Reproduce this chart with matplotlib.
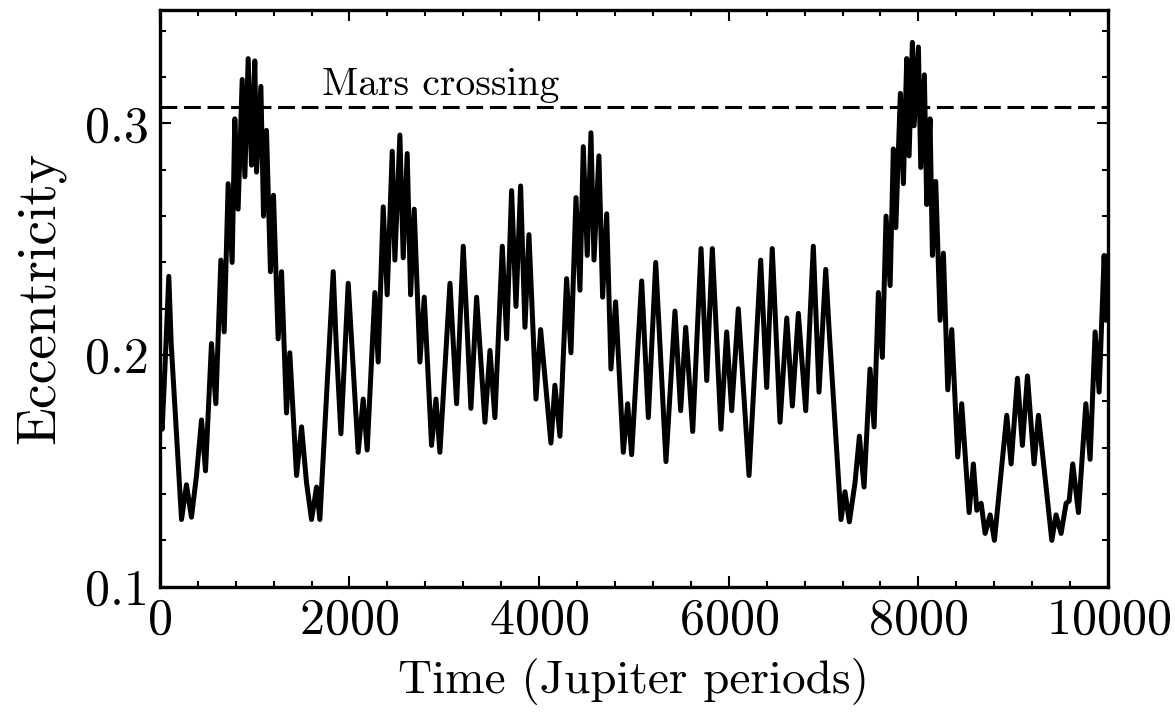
import numpy as np
import matplotlib
matplotlib.use('Agg')
import matplotlib.pyplot as plt
from matplotlib.ticker import MultipleLocator

plt.rcParams['font.family'] = 'serif'
plt.rcParams['font.serif'] = ['cmr10', 'DejaVu Serif']
plt.rcParams['mathtext.fontset'] = 'cm'
plt.rcParams['axes.formatter.use_mathtext'] = True
plt.rcParams['axes.unicode_minus'] = False

# time in Jupiter periods (turning points of the curve)
time = [0, 25, 60, 95, 120, 229, 281, 334, 387, 440, 482, 545, 591, 644, 679,
        721, 763, 791, 826, 869, 897, 932, 967, 1002, 1020, 1066, 1094, 1125,
        1167, 1199, 1248, 1284, 1336, 1371, 1442, 1495, 1547, 1600, 1653, 1688,
        1829, 1860, 1910, 1987, 2092, 2145, 2187, 2268, 2303, 2356, 2398, 2451,
        2479, 2532, 2567, 2609, 2645, 2683, 2743, 2789, 2866, 2912, 2954, 3060,
        3130, 3200, 3281, 3341, 3429, 3482, 3534, 3612, 3658, 3710, 3756, 3805,
        3851, 3893, 3967, 4016, 4125, 4167, 4220, 4290, 4336, 4389, 4431, 4466,
        4508, 4547, 4579, 4631, 4670, 4713, 4758, 4807, 4888, 4934, 4976, 5082,
        5152, 5230, 5338, 5433, 5493, 5546, 5620, 5708, 5768, 5827, 5918, 5978,
        6031, 6101, 6214, 6337, 6400, 6459, 6541, 6612, 6671, 6734, 6812, 6892,
        6952, 7023, 7060, 7184, 7226, 7272, 7332, 7378, 7427, 7490, 7533, 7578,
        7620, 7659, 7702, 7736, 7762, 7810, 7842, 7877, 7902, 7937, 7955, 8000,
        8025, 8063, 8088, 8123, 8148, 8183, 8229, 8264, 8310, 8352, 8415, 8457,
        8535, 8580, 8616, 8662, 8704, 8757, 8802, 8932, 8978, 9045, 9097, 9150,
        9220, 9266, 9407, 9452, 9505, 9558, 9590, 9628, 9688, 9766, 9811, 9864,
        9906, 9959, 9980, 10000]

ecc = [0.175, 0.168, 0.200, 0.234, 0.205, 0.129, 0.144, 0.130, 0.148, 0.172,
       0.150, 0.205, 0.179, 0.241, 0.210, 0.274, 0.240, 0.302, 0.263, 0.319,
       0.277, 0.328, 0.282, 0.327, 0.279, 0.316, 0.260, 0.297, 0.236, 0.269,
       0.207, 0.236, 0.175, 0.201, 0.148, 0.169, 0.145, 0.129, 0.143, 0.129,
       0.236, 0.205, 0.166, 0.231, 0.158, 0.181, 0.159, 0.227, 0.197, 0.264,
       0.226, 0.288, 0.241, 0.295, 0.242, 0.287, 0.226, 0.263, 0.197, 0.225,
       0.161, 0.181, 0.158, 0.231, 0.179, 0.247, 0.177, 0.225, 0.171, 0.202,
       0.173, 0.247, 0.207, 0.271, 0.221, 0.273, 0.212, 0.252, 0.181, 0.211,
       0.162, 0.187, 0.165, 0.233, 0.201, 0.268, 0.228, 0.290, 0.243, 0.296,
       0.241, 0.286, 0.225, 0.261, 0.194, 0.223, 0.158, 0.179, 0.157, 0.232,
       0.173, 0.240, 0.154, 0.219, 0.176, 0.212, 0.167, 0.246, 0.189, 0.246,
       0.168, 0.210, 0.176, 0.220, 0.148, 0.241, 0.186, 0.246, 0.171, 0.216,
       0.178, 0.218, 0.176, 0.247, 0.184, 0.237, 0.210, 0.129, 0.141, 0.128,
       0.145, 0.165, 0.143, 0.194, 0.169, 0.227, 0.199, 0.260, 0.230, 0.289,
       0.255, 0.313, 0.274, 0.328, 0.286, 0.335, 0.299, 0.333, 0.281, 0.321,
       0.265, 0.302, 0.243, 0.275, 0.215, 0.244, 0.185, 0.211, 0.156, 0.179,
       0.132, 0.153, 0.133, 0.136, 0.123, 0.131, 0.120, 0.174, 0.153, 0.190,
       0.161, 0.191, 0.153, 0.174, 0.120, 0.131, 0.123, 0.136, 0.137, 0.153,
       0.132, 0.179, 0.155, 0.210, 0.184, 0.243, 0.215, 0.243]

mars_crossing = 0.307

fig = plt.figure(figsize=(11.75, 7.12), dpi=100)
ax = fig.add_axes([0.136, 0.176, 0.807, 0.81])

ax.plot(time, ecc, color='black', lw=3.6, solid_joinstyle='round',
        solid_capstyle='round')
ax.axhline(mars_crossing, color='black', lw=2.2, linestyle=(0, (5.5, 2.2)))
ax.text(1710, 0.3125, 'Mars crossing', fontsize=28.5, ha='left', va='baseline')

ax.set_xlim(0, 10000)
ax.set_ylim(0.1, 0.349)
ax.xaxis.set_major_locator(MultipleLocator(2000))
ax.xaxis.set_minor_locator(MultipleLocator(400))
ax.yaxis.set_minor_locator(MultipleLocator(0.02))
ax.set_yticks([0.1, 0.2, 0.3])
ax.set_yticklabels(['0.1', '0.2', '0.3'])

ax.tick_params(which='both', direction='in', top=True, right=True, width=1.5)
ax.tick_params(which='major', length=8, labelsize=36, pad=8)
ax.tick_params(which='minor', length=4)
for s in ax.spines.values():
    s.set_linewidth(2.4)

ax.set_xlabel('Time (Jupiter periods)', fontsize=34, labelpad=10)
ax.set_ylabel('Eccentricity', fontsize=40, labelpad=14)

fig.savefig('out.png', dpi=100)
